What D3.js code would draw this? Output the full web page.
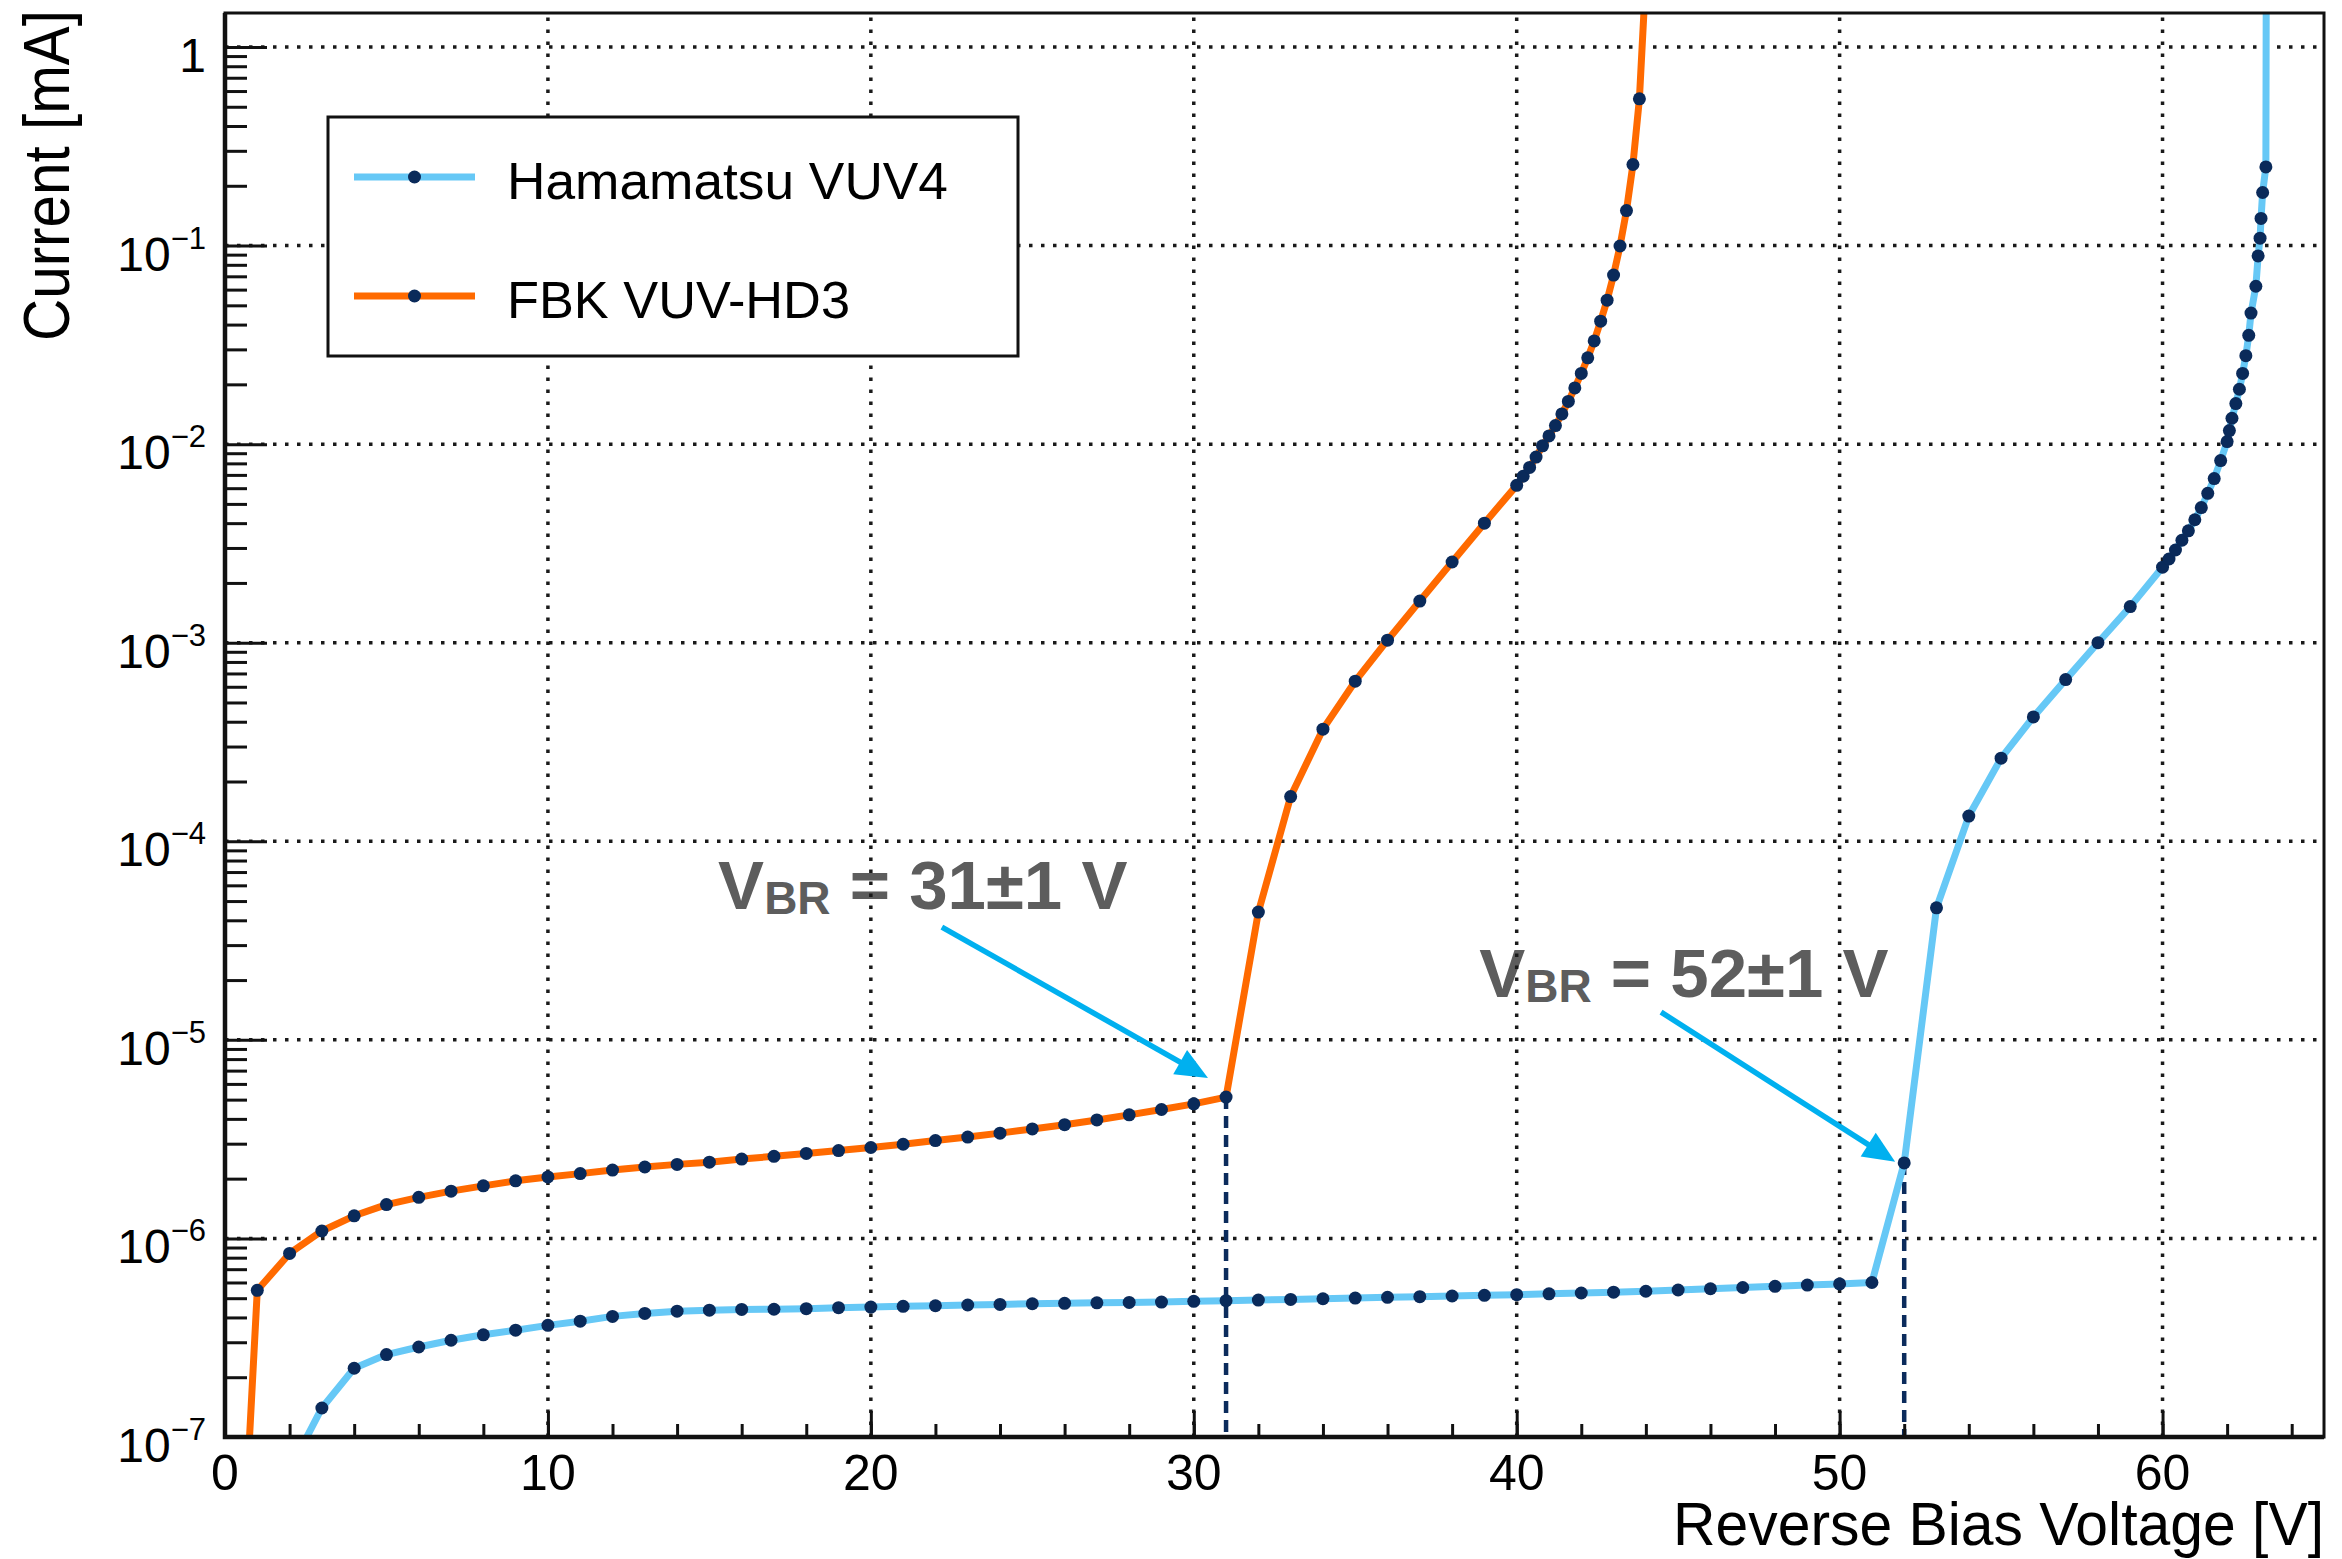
<!DOCTYPE html>
<html>
<head>
<meta charset="utf-8">
<script src="https://cdn.jsdelivr.net/npm/d3@7"></script>
<style>
body { margin: 0; background: #fff; }
svg { display: block; }
</style>
</head>
<body>
<div id="chart"></div>
<script>
// I-V curves, reverse bias

// FBK VUV-HD3
var fbkV = [0, 1, 2, 3, 4, 5, 6, 7, 8, 9, 10, 11, 12, 13, 14, 15, 16, 17, 18, 19, 20,
	21, 22, 23, 24, 25, 26, 27, 28, 29, 30, 31, 32, 33, 34, 35, 36, 37, 38, 39, 40,
	40.2, 40.4, 40.6, 40.8, 41.0, 41.2, 41.4, 41.6, 41.8, 42.0,
	42.2, 42.4, 42.6, 42.8, 43.0, 43.2, 43.4, 43.6, 43.8, 44.0];
var fbkI = [4.6e-10, 5.48e-7, 8.4e-7, 1.09e-6, 1.30e-6, 1.48e-6, 1.61e-6, 1.73e-6, 1.84e-6, 1.95e-6, 2.04e-6,
	2.12e-6, 2.21e-6, 2.29e-6, 2.36e-6, 2.42e-6, 2.51e-6, 2.59e-6, 2.68e-6, 2.77e-6, 2.87e-6,
	2.98e-6, 3.11e-6, 3.24e-6, 3.39e-6, 3.56e-6, 3.74e-6, 3.95e-6, 4.19e-6, 4.46e-6, 4.76e-6,
	5.15e-6, 4.4e-5, 1.68e-4, 3.67e-4, 6.4e-4, 1.03e-3, 1.62e-3, 2.55e-3, 4.0e-3, 6.2e-3,
	6.89e-3, 7.63e-3, 8.61e-3, 9.8e-3, 1.10e-2, 1.24e-2, 1.42e-2, 1.64e-2, 1.92e-2, 2.27e-2,
	2.72e-2, 3.31e-2, 4.16e-2, 5.31e-2, 7.10e-2, 9.95e-2, 0.150, 0.256, 0.548, 2.3];

// Hamamatsu VUV4
var hamV = [2, 3, 4, 5, 6, 7, 8, 9, 10, 11, 12, 13, 14, 15, 16, 17, 18, 19, 20,
	21, 22, 23, 24, 25, 26, 27, 28, 29, 30, 31, 32, 33, 34, 35, 36, 37, 38, 39, 40,
	41, 42, 43, 44, 45, 46, 47, 48, 49, 50, 51, 52, 53, 54, 55, 56, 57, 58, 59, 60,
	60.2, 60.4, 60.6, 60.8, 61.0, 61.2, 61.4, 61.6, 61.8, 62.0,
	62.07, 62.15, 62.27, 62.38, 62.48, 62.58, 62.67, 62.74, 62.89, 62.96,
	63.02, 63.05, 63.10, 63.20, 63.22];
var hamI = [6.8e-8, 1.40e-7, 2.22e-7, 2.60e-7, 2.84e-7, 3.07e-7, 3.27e-7, 3.45e-7, 3.65e-7,
	3.83e-7, 4.05e-7, 4.19e-7, 4.30e-7, 4.35e-7, 4.39e-7, 4.40e-7, 4.43e-7, 4.48e-7, 4.51e-7,
	4.55e-7, 4.58e-7, 4.62e-7, 4.65e-7, 4.69e-7, 4.71e-7, 4.74e-7, 4.76e-7, 4.78e-7, 4.82e-7,
	4.86e-7, 4.89e-7, 4.93e-7, 4.97e-7, 5.01e-7, 5.05e-7, 5.09e-7, 5.13e-7, 5.17e-7, 5.21e-7,
	5.26e-7, 5.31e-7, 5.36e-7, 5.42e-7, 5.50e-7, 5.58e-7, 5.66e-7, 5.74e-7, 5.82e-7, 5.90e-7,
	6.00e-7, 2.40e-6, 4.62e-5, 1.34e-4, 2.62e-4, 4.23e-4, 6.52e-4, 1.0e-3, 1.52e-3, 2.4e-3,
	2.64e-3, 2.93e-3, 3.28e-3, 3.66e-3, 4.16e-3, 4.79e-3, 5.65e-3, 6.71e-3, 8.26e-3, 1.03e-2,
	1.17e-2, 1.35e-2, 1.60e-2, 1.89e-2, 2.27e-2, 2.79e-2, 3.53e-2, 4.57e-2, 6.24e-2, 8.87e-2,
	0.109, 0.137, 0.185, 0.249, 10];

var seriesNames = ["Hamamatsu VUV4", "FBK VUV-HD3"];
var seriesColors = ["#66c8f6", "#ff6a00"];

// breakdown voltages, value of the marked point, and the note
var vbrV = [31, 52];
var vbrI = [5.15e-6, 2.40e-6];
var vbrLabel = ["31±1", "52±1"];
// note text and arrow anchors, in data units
var noteTextV = [15.27, 38.84];
var noteTextI = [4.56e-5, 1.64e-5];
var arrowFromV = [22.2, 44.47];
var arrowFromI = [3.70e-5, 1.38e-5];
var arrowToV = [30.44, 51.72];
var arrowToI = [6.43e-6, 2.43e-6];

var xMajor = [0, 10, 20, 30, 40, 50, 60];
var xMinor = d3.range(0, 65, 2);
var yExp = [-7, -6, -5, -4, -3, -2, -1, 0];

var W = 2342, H = 1559;
var font = "'Liberation Sans', Arial, Helvetica, sans-serif";

var x = d3.scaleLinear().domain([0, 65]).range([225, 2324]);
var y = d3.scaleLog().domain([1e-7, 1.483]).range([1437, 13]);

var svg = d3.select("#chart").append("svg")
	.attr("width", W)
	.attr("height", H)
	.style("font-family", font);

svg.append("defs").append("clipPath")
	.attr("id", "plotclip")
	.append("rect")
	.attr("x", x(0)).attr("y", y.range()[1])
	.attr("width", x(65) - x(0))
	.attr("height", y.range()[0] - y.range()[1]);

// annotation texts sit under the grid
var notes = svg.append("g")
	.selectAll("text")
	.data(vbrV)
	.enter().append("text")
	.attr("x", function(d, i) { return x(noteTextV[i]); })
	.attr("y", function(d, i) { return y(noteTextI[i]); })
	.attr("font-weight", "bold")
	.attr("font-size", 69)
	.attr("fill", "#5d5d5d");
notes.append("tspan").text("V");
notes.append("tspan").attr("font-size", 46).attr("dy", 5).text("BR");
notes.append("tspan").attr("dy", -5).text(function(d, i) { return " = " + vbrLabel[i] + " V"; });

// grid
var grid = svg.append("g")
	.attr("stroke", "#1a1a1a")
	.attr("stroke-width", 3.5)
	.attr("stroke-dasharray", "3.5,8.5");

grid.selectAll("line.gx")
	.data(xMajor.filter(function(d) { return d > 0; }))
	.enter().append("line")
	.attr("x1", function(d) { return x(d); })
	.attr("x2", function(d) { return x(d); })
	.attr("y1", y.range()[0])
	.attr("y2", y.range()[1]);

grid.selectAll("line.gy")
	.data(yExp.filter(function(d) { return d > -7; }))
	.enter().append("line")
	.attr("x1", x(0))
	.attr("x2", x(65))
	.attr("y1", function(d) { return y(Math.pow(10, d)); })
	.attr("y2", function(d) { return y(Math.pow(10, d)); });

// legend box (drawn over the grid)
var legend = svg.append("g");
legend.append("rect")
	.attr("x", 328).attr("y", 117)
	.attr("width", 690).attr("height", 239)
	.attr("fill", "#fff")
	.attr("stroke", "#111")
	.attr("stroke-width", 3);

// breakdown markers
svg.append("g")
	.selectAll("line")
	.data(vbrV)
	.enter().append("line")
	.attr("x1", function(d) { return x(d); })
	.attr("x2", function(d) { return x(d); })
	.attr("y1", function(d, i) { return y(vbrI[i]); })
	.attr("y2", y(1e-7))
	.attr("stroke", "#0b2b5c")
	.attr("stroke-width", 4.5)
	.attr("stroke-dasharray", "12,7");

// curves
var series = [
	d3.zip(hamV, hamI),
	d3.zip(fbkV, fbkI)
];

var line = d3.line()
	.x(function(d) { return x(d[0]); })
	.y(function(d) { return y(Math.max(d[1], 1e-12)); });

var plot = svg.append("g").attr("clip-path", "url(#plotclip)");

plot.selectAll("path.curve")
	.data(series)
	.enter().append("path")
	.attr("class", "curve")
	.attr("d", line)
	.attr("fill", "none")
	.attr("stroke", function(d, i) { return seriesColors[i]; })
	.attr("stroke-width", 7)
	.attr("stroke-linejoin", "round");

series.forEach(function(s) {
	plot.append("g")
		.selectAll("circle")
		.data(s)
		.enter().append("circle")
		.attr("cx", function(d) { return x(d[0]); })
		.attr("cy", function(d) { return y(Math.max(d[1], 1e-12)); })
		.attr("r", 6.5)
		.attr("fill", "#0a2a5a");
});

// arrows
var arrowColor = "#00b0ef";
var arrows = svg.append("g");
vbrV.forEach(function(v, i) {
	var x1 = x(arrowFromV[i]), y1 = y(arrowFromI[i]);
	var x2 = x(arrowToV[i]), y2 = y(arrowToI[i]);
	var a = Math.atan2(y2 - y1, x2 - x1);
	var hl = 32, hw = 14;
	var bx = x2 - hl * Math.cos(a), by = y2 - hl * Math.sin(a);
	arrows.append("line")
		.attr("x1", x1).attr("y1", y1)
		.attr("x2", bx + 2 * Math.cos(a)).attr("y2", by + 2 * Math.sin(a))
		.attr("stroke", arrowColor)
		.attr("stroke-width", 5.5);
	arrows.append("path")
		.attr("d", "M" + x2 + "," + y2 +
			"L" + (bx + hw * Math.sin(a)) + "," + (by - hw * Math.cos(a)) +
			"L" + (bx - hw * Math.sin(a)) + "," + (by + hw * Math.cos(a)) + "Z")
		.attr("fill", arrowColor);
});

// axes
var axes = svg.append("g");

axes.append("g")
	.attr("transform", "translate(0," + y(1e-7) + ")")
	.call(d3.axisBottom(x).tickValues(xMinor).tickSize(-13).tickSizeOuter(0).tickFormat(""))
	.call(function(g) { g.select(".domain").remove(); })
	.selectAll("line").attr("stroke", "#111").attr("stroke-width", 3);

axes.append("g")
	.attr("transform", "translate(0," + y(1e-7) + ")")
	.call(d3.axisBottom(x).tickValues(xMajor).tickSize(-26).tickSizeOuter(0).tickFormat(""))
	.call(function(g) { g.select(".domain").remove(); })
	.selectAll("line").attr("stroke", "#111").attr("stroke-width", 3);

var yMinor = [];
yExp.forEach(function(e) {
	for (var k = 2; k <= 9; k++) {
		var v = k * Math.pow(10, e);
		if (v <= y.domain()[1]) yMinor.push(v);
	}
});

axes.append("g")
	.attr("transform", "translate(" + x(0) + ",0)")
	.call(d3.axisLeft(y).tickValues(yMinor).tickSize(-22).tickSizeOuter(0).tickFormat(""))
	.call(function(g) { g.select(".domain").remove(); })
	.selectAll("line").attr("stroke", "#111").attr("stroke-width", 3);

axes.append("g")
	.attr("transform", "translate(" + x(0) + ",0)")
	.call(d3.axisLeft(y).tickValues(yExp.map(function(e) { return Math.pow(10, e); })).tickSize(-42).tickSizeOuter(0).tickFormat(""))
	.call(function(g) { g.select(".domain").remove(); })
	.selectAll("line").attr("stroke", "#111").attr("stroke-width", 3);

// frame
axes.append("rect")
	.attr("x", x(0)).attr("y", y.range()[1])
	.attr("width", x(65) - x(0))
	.attr("height", y.range()[0] - y.range()[1])
	.attr("fill", "none")
	.attr("stroke", "#111")
	.attr("stroke-width", 3);
axes.append("path")
	.attr("d", "M" + x(0) + "," + y.range()[1] + "V" + y.range()[0] + "H" + x(65))
	.attr("fill", "none")
	.attr("stroke", "#111")
	.attr("stroke-width", 4.5);

// tick labels
svg.append("g")
	.selectAll("text")
	.data(xMajor)
	.enter().append("text")
	.attr("x", function(d) { return x(d); })
	.attr("y", y(1e-7) + 53)
	.attr("text-anchor", "middle")
	.attr("font-size", 50)
	.attr("fill", "#000")
	.text(function(d) { return d; });

var ylab = svg.append("g")
	.selectAll("text")
	.data(yExp)
	.enter().append("text")
	.attr("x", 206)
	.attr("y", function(d) { return y(Math.pow(10, d)) + 25; })
	.attr("text-anchor", "end")
	.attr("font-size", 48)
	.attr("fill", "#000");
ylab.append("tspan").text(function(d) { return d === 0 ? "1" : "10"; });
ylab.filter(function(d) { return d !== 0; })
	.append("tspan")
	.attr("font-size", 31)
	.attr("dy", -22)
	.text(function(d) { return "\u2212" + (-d); });

// axis titles
svg.append("text")
	.attr("x", x(65))
	.attr("y", 1545)
	.attr("text-anchor", "end")
	.attr("font-size", 61)
	.attr("textLength", 651)
	.attr("lengthAdjust", "spacingAndGlyphs")
	.text("Reverse Bias Voltage [V]");

svg.append("text")
	.attr("transform", "translate(69,10) rotate(-90)")
	.attr("text-anchor", "end")
	.attr("font-size", 64)
	.attr("textLength", 331)
	.attr("lengthAdjust", "spacingAndGlyphs")
	.text("Current [mA]");

// legend entries
var entryY = [177, 296];
var entries = legend.selectAll("g.entry")
	.data(seriesNames)
	.enter().append("g")
	.attr("class", "entry")
	.attr("transform", function(d, i) { return "translate(0," + entryY[i] + ")"; });
entries.append("line")
	.attr("x1", 354).attr("x2", 475)
	.attr("stroke", function(d, i) { return seriesColors[i]; })
	.attr("stroke-width", 7);
entries.append("circle")
	.attr("cx", 414.5)
	.attr("r", 6.5)
	.attr("fill", "#0a2a5a");
entries.append("text")
	.attr("x", 507)
	.attr("y", 22)
	.attr("font-size", 52)
	.attr("textLength", function(d, i) { return i === 0 ? 441 : 343; })
	.attr("lengthAdjust", "spacingAndGlyphs")
	.text(function(d) { return d; });
</script>
</body>
</html>
